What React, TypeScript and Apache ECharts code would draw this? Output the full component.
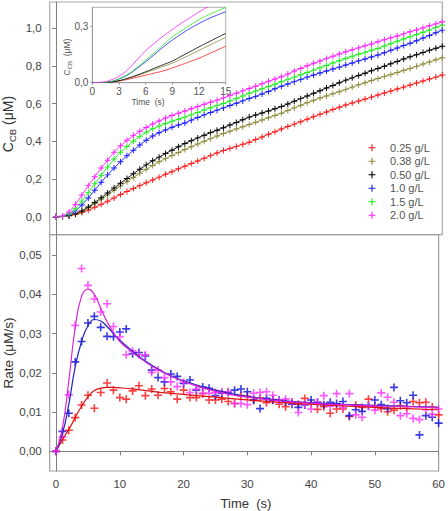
import React, { useEffect, useRef } from 'react';
import * as echarts from 'echarts';

// ---------- data ----------
const seriesNames = ['0.25 g/L', '0.38 g/L', '0.50 g/L', '1.0 g/L', '1.5 g/L', '2.0 g/L'];
const seriesColors = ['#ff1a1a', '#8c8c3c', '#000000', '#1a1aff', '#22ee22', '#ff22ff'];

const timeS = [0, 1, 2, 3, 4, 5, 6, 7, 8, 9, 10, 11, 12, 13, 14, 15, 16, 17, 18, 19, 20,
  21, 22, 23, 24, 25, 26, 27, 28, 29, 30, 31, 32, 33, 34, 35, 36, 37, 38, 39, 40,
  41, 42, 43, 44, 45, 46, 47, 48, 49, 50, 51, 52, 53, 54, 55, 56, 57, 58, 59, 60];

// C_CB (µM) vs time, per concentration
const c025 = [0, 0.001, 0.005, 0.012, 0.022, 0.035, 0.050, 0.066, 0.082, 0.100, 0.118,
  0.134, 0.150, 0.165, 0.180, 0.195, 0.210, 0.225, 0.239, 0.254, 0.268,
  0.282, 0.296, 0.310, 0.324, 0.338, 0.351, 0.362, 0.373, 0.384, 0.395,
  0.409, 0.423, 0.437, 0.451, 0.465, 0.478, 0.491, 0.504, 0.517, 0.530,
  0.543, 0.555, 0.568, 0.580, 0.592, 0.603, 0.613, 0.624, 0.634, 0.645,
  0.656, 0.666, 0.677, 0.687, 0.698, 0.709, 0.719, 0.730, 0.740, 0.751];
const c038 = [0, 0.001, 0.005, 0.014, 0.028, 0.048, 0.070, 0.093, 0.116, 0.140, 0.163,
  0.186, 0.208, 0.230, 0.252, 0.272, 0.291, 0.308, 0.325, 0.341, 0.356,
  0.371, 0.386, 0.400, 0.414, 0.428, 0.441, 0.453, 0.465, 0.477, 0.489,
  0.501, 0.513, 0.525, 0.537, 0.549, 0.563, 0.577, 0.591, 0.604, 0.617,
  0.629, 0.640, 0.652, 0.663, 0.675, 0.687, 0.699, 0.710, 0.722, 0.733,
  0.744, 0.754, 0.765, 0.775, 0.786, 0.797, 0.809, 0.820, 0.832, 0.843];
const c050 = [0, 0.001, 0.006, 0.016, 0.031, 0.052, 0.076, 0.101, 0.126, 0.152, 0.178,
  0.203, 0.228, 0.252, 0.275, 0.297, 0.316, 0.335, 0.353, 0.371, 0.388,
  0.403, 0.418, 0.432, 0.446, 0.459, 0.472, 0.486, 0.500, 0.514, 0.528,
  0.539, 0.550, 0.561, 0.572, 0.584, 0.598, 0.612, 0.626, 0.640, 0.654,
  0.668, 0.682, 0.696, 0.710, 0.724, 0.736, 0.749, 0.761, 0.774, 0.786,
  0.798, 0.811, 0.823, 0.836, 0.848, 0.859, 0.870, 0.882, 0.893, 0.904];
const c10 = [0, 0.002, 0.010, 0.030, 0.062, 0.100, 0.141, 0.183, 0.222, 0.258, 0.292,
  0.323, 0.352, 0.380, 0.406, 0.428, 0.445, 0.460, 0.474, 0.486, 0.497,
  0.512, 0.526, 0.540, 0.553, 0.565, 0.577, 0.590, 0.602, 0.614, 0.627,
  0.638, 0.651, 0.664, 0.678, 0.692, 0.704, 0.716, 0.728, 0.740, 0.751,
  0.762, 0.772, 0.783, 0.793, 0.804, 0.815, 0.826, 0.836, 0.847, 0.857,
  0.869, 0.882, 0.894, 0.907, 0.919, 0.933, 0.947, 0.961, 0.975, 0.989];
const c15 = [0, 0.002, 0.015, 0.042, 0.083, 0.128, 0.175, 0.220, 0.264, 0.306, 0.342,
  0.372, 0.400, 0.426, 0.448, 0.466, 0.481, 0.494, 0.506, 0.517, 0.528,
  0.540, 0.553, 0.566, 0.578, 0.589, 0.600, 0.613, 0.627, 0.640, 0.654,
  0.666, 0.678, 0.690, 0.702, 0.715, 0.728, 0.740, 0.752, 0.765, 0.777,
  0.790, 0.802, 0.815, 0.827, 0.839, 0.850, 0.861, 0.871, 0.882, 0.892,
  0.905, 0.917, 0.930, 0.942, 0.954, 0.966, 0.978, 0.990, 1.003, 1.016];
const c20 = [0, 0.004, 0.025, 0.065, 0.115, 0.165, 0.212, 0.258, 0.300, 0.342, 0.376,
  0.405, 0.430, 0.453, 0.473, 0.492, 0.508, 0.523, 0.537, 0.549, 0.560,
  0.572, 0.584, 0.596, 0.607, 0.618, 0.630, 0.642, 0.655, 0.667, 0.680,
  0.692, 0.705, 0.718, 0.730, 0.742, 0.756, 0.772, 0.786, 0.800, 0.813,
  0.825, 0.838, 0.850, 0.862, 0.874, 0.885, 0.895, 0.906, 0.916, 0.927,
  0.938, 0.948, 0.958, 0.969, 0.980, 0.990, 1.001, 1.012, 1.022, 1.033];

// inset (0–15 s)
const insetT = [0, 1, 2, 3, 4, 5, 6, 7, 8, 9, 10, 11, 12, 13, 14, 15];
const in025 = [0, 0.000, 0.003, 0.009, 0.018, 0.029, 0.040, 0.051, 0.063, 0.078, 0.095, 0.112, 0.130, 0.151, 0.172, 0.194];
const in038 = [0, 0.000, 0.003, 0.010, 0.022, 0.037, 0.053, 0.070, 0.087, 0.104, 0.126, 0.148, 0.172, 0.195, 0.218, 0.240];
const in050 = [0, 0.000, 0.003, 0.011, 0.024, 0.040, 0.058, 0.077, 0.096, 0.115, 0.140, 0.165, 0.190, 0.214, 0.238, 0.261];
const in10 = [0, 0.001, 0.005, 0.020, 0.042, 0.075, 0.111, 0.150, 0.190, 0.226, 0.258, 0.288, 0.314, 0.338, 0.358, 0.376];
const in15 = [0, 0.001, 0.006, 0.021, 0.045, 0.080, 0.120, 0.160, 0.202, 0.243, 0.275, 0.305, 0.335, 0.358, 0.380, 0.399];
const in20 = [0, 0.003, 0.013, 0.035, 0.070, 0.120, 0.170, 0.210, 0.248, 0.282, 0.315, 0.345, 0.375, 0.403, 0.430, 0.455];

// Rate (µM/s) measured points
const rate025 = [0, 0.0029, 0.0054, 0.0086, 0.0118, 0.0143, 0.0110, 0.0150, 0.0174, 0.0156, 0.0137,
  0.0133, 0.0154, 0.0167, 0.0142, 0.0159, 0.0143, 0.0160, 0.0152, 0.0133, 0.0156,
  0.0137, 0.0137, 0.0147, 0.0131, 0.0131, 0.0133, 0.0127, 0.0122, 0.0142, 0.0140,
  0.0130, 0.0136, 0.0124, 0.0132, 0.0120, 0.0114, 0.0126, 0.0120, 0.0135, 0.0122,
  0.0107, 0.0114, 0.0097, 0.0108, 0.0108, 0.0089, 0.0118, 0.0112, 0.0133, 0.0115,
  0.0109, 0.0101, 0.0105, 0.0116, 0.0110, 0.0127, 0.0124, 0.0125, 0.0113, 0.0093];
const rate10 = [0, 0.0051, 0.0097, 0.0228, 0.0280, 0.0327, 0.0344, 0.0316, 0.0293, 0.0292, 0.0304,
  0.0312, 0.0249, 0.0252, 0.0243, 0.0207, 0.0188, 0.0177, 0.0197, 0.0191, 0.0173,
  0.0182, 0.0156, 0.0164, 0.0161, 0.0142, 0.0148, 0.0150, 0.0156, 0.0159, 0.0152,
  0.0131, 0.0109, 0.0135, 0.0130, 0.0131, 0.0126, 0.0120, 0.0112, 0.0118, 0.0131,
  0.0125, 0.0119, 0.0125, 0.0122, 0.0127, 0.0091, 0.0106, 0.0102, 0.0115, 0.0131,
  0.0119, 0.0109, 0.0163, 0.0129, 0.0124, 0.0143, 0.0042, 0.0091, 0.0087, 0.0072];
const rate20 = [0, 0.0037, 0.0144, 0.0321, 0.0466, 0.0423, 0.0388, 0.0355, 0.0376, 0.0318, 0.0292,
  0.0246, 0.0256, 0.0246, 0.0246, 0.0201, 0.0207, 0.0188, 0.0177, 0.0165, 0.0176,
  0.0150, 0.0159, 0.0148, 0.0148, 0.0150, 0.0152, 0.0152, 0.0122, 0.0122, 0.0119,
  0.0148, 0.0150, 0.0152, 0.0143, 0.0130, 0.0133, 0.0124, 0.0099, 0.0120, 0.0108,
  0.0125, 0.0142, 0.0115, 0.0147, 0.0112, 0.0147, 0.0093, 0.0087, 0.0116, 0.0105,
  0.0149, 0.0138, 0.0125, 0.0091, 0.0096, 0.0084, 0.0081, 0.0106, 0.0095, 0.0108];

// Rate fitted curves
const fitT = [0, 1, 2, 3, 4, 5, 6, 7, 8, 9, 10, 12, 14, 16, 18, 20, 25, 30, 35, 40, 45, 50, 55, 60];
const fit025 = [0, 0.0030, 0.0056, 0.0086, 0.0115, 0.0139, 0.0155, 0.0161, 0.0163, 0.0163, 0.0162, 0.0159,
  0.0155, 0.0151, 0.0148, 0.0145, 0.0138, 0.0131, 0.0125, 0.0120, 0.0116, 0.0112, 0.0109, 0.0106];
const fit10 = [0, 0.0045, 0.0120, 0.0215, 0.0280, 0.0320, 0.0336, 0.0332, 0.0318, 0.0300, 0.0283, 0.0255,
  0.0230, 0.0210, 0.0193, 0.0180, 0.0156, 0.0140, 0.0130, 0.0124, 0.0120, 0.0117, 0.0115, 0.0112];
const fit20 = [0, 0.0060, 0.0180, 0.0315, 0.0395, 0.0413, 0.0400, 0.0365, 0.0330, 0.0303, 0.0280, 0.0252,
  0.0228, 0.0208, 0.0192, 0.0178, 0.0153, 0.0138, 0.0129, 0.0123, 0.0119, 0.0116, 0.0114, 0.0111];

const topTicks = [0, 0.2, 0.4, 0.6, 0.8, 1.0];
const rateTicks = [0, 0.01, 0.02, 0.03, 0.04, 0.05];
const timeTicks = [0, 10, 20, 30, 40, 50, 60];
const insetXTicks = [0, 3, 6, 9, 12, 15];
const insetYTicks = [0, 0.3];

// ---------- chart ----------
const PLUS = 'path://M4,0h2v4h4v2h-4v4h-2v-4h-4v-2h4z';
const PLUS_THIN = 'path://M4.2,0h1.6v4.2h4.2v1.6h-4.2v4.2h-1.6v-4.2h-4.2v-1.6h4.2z';
const FONT = '"Liberation Sans", Arial, sans-serif';
const comma = (d: number) => (v: number) => v.toFixed(d).replace('.', ',');
const pairs = (xs: number[], ys: number[]) => xs.map((x, i) => [x, ys[i]]);

function buildOption() {
  const topData = [c025, c038, c050, c10, c15, c20];
  const insetData = [in025, in038, in050, in10, in15, in20];
  const axisGray = '#808080';
  const labelColor = '#444';

  const series: any[] = [];
  topData.forEach((arr, i) => {
    series.push({
      type: 'line', name: seriesNames[i], xAxisIndex: 0, yAxisIndex: 0,
      data: pairs(timeS, arr), symbol: PLUS_THIN, symbolSize: 6, showAllSymbol: true,
      lineStyle: { width: 0.9, color: seriesColors[i] }, itemStyle: { color: seriesColors[i] },
      emphasis: { disabled: true }, silent: true,
    });
  });
  insetData.forEach((arr, i) => {
    series.push({
      type: 'line', name: 'inset ' + seriesNames[i], xAxisIndex: 2, yAxisIndex: 2,
      data: pairs(insetT, arr), showSymbol: false, smooth: true, clip: true,
      lineStyle: { width: 0.8, color: seriesColors[i] }, itemStyle: { color: seriesColors[i] },
      emphasis: { disabled: true }, silent: true,
    });
  });
  const rateSets = [
    { pts: rate025, fit: fit025, mark: '#ff1010', line: '#dd1111', n: '0.25' },
    { pts: rate10, fit: fit10, mark: '#0a0ae0', line: '#2222bb', n: '1.0' },
    { pts: rate20, fit: fit20, mark: '#ff30ff', line: '#dd22dd', n: '2.0' },
  ];
  rateSets.forEach((s) => {
    series.push({
      type: 'scatter', name: 'rate ' + s.n, xAxisIndex: 1, yAxisIndex: 1,
      data: pairs(timeS, s.pts), symbol: PLUS, symbolSize: 8,
      itemStyle: { color: s.mark }, emphasis: { disabled: true }, silent: true,
    });
  });
  rateSets.forEach((s) => {
    series.push({
      type: 'line', name: 'fit ' + s.n, xAxisIndex: 1, yAxisIndex: 1,
      data: pairs(fitT, s.fit), showSymbol: false, smooth: true,
      lineStyle: { width: 1.2, color: s.line }, emphasis: { disabled: true }, silent: true,
    });
  });

  const yTitleRich = (big: number, small: number, fill: string) => ({
    a: { fontSize: big, lineHeight: big + 4, fontFamily: FONT, fontWeight: 'normal', fill },
    b: { fontSize: small, lineHeight: small, verticalAlign: 'bottom', fontFamily: FONT, fontWeight: 'normal', fill },
  });

  return {
    animation: false,
    backgroundColor: '#ffffff',
    textStyle: { fontFamily: FONT },
    grid: [
      { left: 49.7, top: 2, width: 392.6, height: 232.7, show: true, borderColor: '#a8a8a8', borderWidth: 1.2 },
      { left: 49.7, top: 234.7, width: 392.6, height: 236.3, show: true, borderColor: '#a0a0a0', borderWidth: 1.2 },
      { left: 92.3, top: 7.3, width: 133.4, height: 75.4, show: true, borderColor: '#b0b0b0', borderWidth: 1, backgroundColor: '#fff' },
    ],
    xAxis: [
      { gridIndex: 0, type: 'value', min: -1, max: 60, show: false },
      {
        gridIndex: 1, type: 'value', min: -1, max: 60,
        axisLine: { show: true, lineStyle: { color: axisGray, width: 1 } },
        axisTick: { show: true, length: 4, customValues: timeTicks, lineStyle: { color: axisGray } },
        axisLabel: { customValues: timeTicks, fontSize: 11.5, color: labelColor, margin: 7, fontFamily: FONT },
        splitLine: { show: false },
      },
      {
        gridIndex: 2, type: 'value', min: 0, max: 15,
        axisLine: { show: true, lineStyle: { color: '#999' } },
        axisTick: { show: true, length: 2, customValues: insetXTicks, lineStyle: { color: '#999' } },
        axisLabel: { customValues: insetXTicks, fontSize: 10, color: '#555', margin: 4, fontFamily: FONT },
        splitLine: { show: false },
      },
    ],
    yAxis: [
      {
        gridIndex: 0, type: 'value', min: -0.095, max: 1.138,
        axisLine: { show: true, lineStyle: { color: axisGray } },
        axisTick: { show: true, length: 4, customValues: topTicks, lineStyle: { color: axisGray } },
        axisLabel: { customValues: topTicks, formatter: comma(1), fontSize: 11.5, color: labelColor, margin: 8, fontFamily: FONT },
        splitLine: { show: false },
      },
      {
        gridIndex: 1, type: 'value', min: -0.005, max: 0.0552,
        axisLine: { show: true, lineStyle: { color: axisGray } },
        axisTick: { show: true, length: 4, customValues: rateTicks, lineStyle: { color: axisGray } },
        axisLabel: { customValues: rateTicks, formatter: comma(2), fontSize: 11.5, color: labelColor, margin: 8, fontFamily: FONT },
        splitLine: { show: false },
      },
      {
        gridIndex: 2, type: 'value', min: 0, max: 0.4,
        axisLine: { show: true, lineStyle: { color: '#999' } },
        axisTick: { show: true, length: 2, customValues: insetYTicks, lineStyle: { color: '#999' } },
        axisLabel: { customValues: insetYTicks, formatter: comma(1), fontSize: 10, color: '#555', margin: 4, fontFamily: FONT },
        splitLine: { show: false },
      },
    ],
    legend: {
      data: seriesNames, orient: 'vertical', left: 363.5, top: 136,
      itemWidth: 7, itemHeight: 7, itemGap: 0, icon: PLUS_THIN, selectedMode: false,
      textStyle: { fontSize: 11, color: '#555', lineHeight: 13.5, padding: [0, 0, 0, 9.5], fontFamily: FONT },
    },
    graphic: [
      {
        type: 'text', x: 8, y: 124, rotation: Math.PI / 2,
        style: { text: '{a|C}{b|CB}{a| (μM)}', rich: yTitleRich(14, 9.5, '#333'), align: 'center', verticalAlign: 'middle' },
      },
      {
        type: 'text', x: 8, y: 353, rotation: Math.PI / 2,
        style: { text: 'Rate (μM/s)', fontSize: 13.5, fontWeight: 'normal', fontFamily: FONT, fill: '#333', align: 'center', verticalAlign: 'middle' },
      },
      {
        type: 'text', x: 246, y: 503,
        style: { text: 'Time  (s)', fontSize: 13, fontWeight: 'normal', fontFamily: FONT, fill: '#333', align: 'center', verticalAlign: 'middle' },
      },
      {
        type: 'text', x: 67, y: 57, rotation: Math.PI / 2,
        style: { text: '{a|C}{b|CB}{a|  (μM)}', rich: yTitleRich(8.5, 6, '#555'), align: 'center', verticalAlign: 'middle' },
      },
      {
        type: 'text', x: 148, y: 102,
        style: { text: 'Time  (s)', fontSize: 8.5, fontWeight: 'normal', fontFamily: FONT, fill: '#555', align: 'center', verticalAlign: 'middle' },
      },
    ],
    series,
  };
}

export default function App() {
  const ref = useRef<HTMLDivElement>(null);
  useEffect(() => {
    if (!ref.current) return;
    const chart = echarts.init(ref.current, null, { renderer: 'svg' });
    chart.setOption(buildOption() as any);
    return () => chart.dispose();
  }, []);
  return <div ref={ref} style={{ position: 'absolute', left: 0, top: 0, width: 448, height: 511 }} />;
}
